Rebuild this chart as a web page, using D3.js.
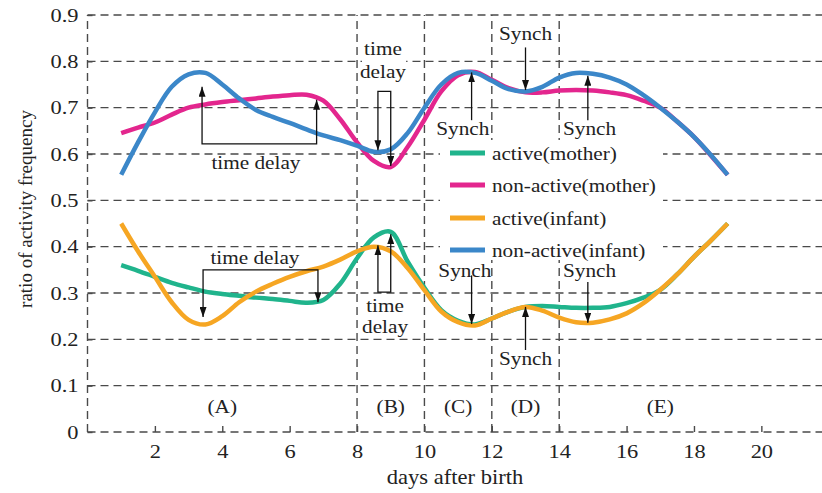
<!DOCTYPE html>
<html><head><meta charset="utf-8">
<script src="https://cdn.jsdelivr.net/npm/d3@7"></script>
<style>html,body{margin:0;padding:0;background:#fff;} svg{display:block;}</style>
</head><body><svg id="chart" width="822" height="493"></svg>
<script>
// ---------------- DATA ----------------
const days = [1,1.5,2,2.5,3,3.5,4,4.5,5,5.5,6,6.5,7,7.5,8,8.5,9,9.5,10,10.5,11,11.5,12,12.5,13,13.5,14,14.5,15,15.5,16,16.5,17,17.5,18,18.5,19];
const activeMother    = [0.36,0.348,0.335,0.322,0.312,0.303,0.298,0.294,0.29,0.287,0.283,0.279,0.285,0.32,0.375,0.42,0.432,0.368,0.311,0.263,0.24,0.232,0.245,0.26,0.27,0.272,0.27,0.268,0.268,0.27,0.278,0.29,0.307,0.34,0.378,0.413,0.45];
const nonActiveMother = [0.645,0.657,0.668,0.685,0.70,0.707,0.712,0.716,0.72,0.724,0.727,0.728,0.715,0.675,0.625,0.585,0.572,0.615,0.674,0.735,0.77,0.777,0.76,0.742,0.733,0.733,0.737,0.738,0.737,0.733,0.727,0.715,0.70,0.67,0.637,0.597,0.555];
const activeInfant    = [0.45,0.39,0.335,0.28,0.242,0.232,0.25,0.28,0.303,0.32,0.335,0.347,0.357,0.372,0.39,0.40,0.39,0.354,0.306,0.26,0.237,0.23,0.245,0.26,0.27,0.262,0.247,0.237,0.236,0.243,0.256,0.278,0.307,0.34,0.378,0.413,0.45];
const nonActiveInfant = [0.555,0.625,0.69,0.745,0.772,0.775,0.75,0.72,0.695,0.68,0.667,0.653,0.64,0.63,0.618,0.605,0.61,0.645,0.70,0.75,0.775,0.775,0.758,0.74,0.735,0.745,0.765,0.775,0.773,0.765,0.75,0.727,0.70,0.67,0.637,0.598,0.555];
const seriesNames  = ["active(mother)","non-active(mother)","active(infant)","non-active(infant)"];
const seriesColors = ["#20b48c","#e3268e","#f6a623","#3b87c9"];
const xTicks = [2,4,6,8,10,12,14,16,18,20];
const yTicks = [0,0.1,0.2,0.3,0.4,0.5,0.6,0.7,0.8,0.9];
const phaseBounds = [8,10,12,14];
const phaseLabels = ["(A)","(B)","(C)","(D)","(E)"];
const phaseLabelX = [4,9,11,13,17];
const phaseLabelY = 0.041;

// annotations (data units)
const bracketNotes = [
  [[3.4,0.745],[3.4,0.622],[6.8,0.622],[6.8,0.717]],
  [[8.62,0.608],[8.62,0.735],[9.0,0.735],[9.0,0.574]],
  [[3.43,0.248],[3.43,0.35],[6.84,0.35],[6.84,0.28]],
  [[8.62,0.403],[8.62,0.302],[9.0,0.302],[9.0,0.427]]
];
const arrowNotes = [
  [[11.4,0.673],[11.4,0.776]],
  [[13.0,0.83],[13.0,0.738]],
  [[14.85,0.673],[14.85,0.769]],
  [[11.4,0.338],[11.4,0.233]],
  [[13.0,0.177],[13.0,0.27]],
  [[14.85,0.324],[14.85,0.236]]
];
const textNotes = [
  {t:"time delay", x:5.0, y:0.568},
  {t:"time", x:8.77, y:0.814, bg:"B"},
  {t:"delay", x:8.77, y:0.764, bg:"B"},
  {t:"Synch", x:11.14, y:0.64},
  {t:"Synch", x:13.0, y:0.845},
  {t:"Synch", x:14.9, y:0.64},
  {t:"time delay", x:4.97, y:0.362},
  {t:"time", x:8.83, y:0.259},
  {t:"delay", x:8.83, y:0.214},
  {t:"Synch", x:11.2, y:0.335},
  {t:"Synch", x:13.0, y:0.145},
  {t:"Synch", x:14.9, y:0.335}
];

// ---------------- CHART ----------------
const W = 822, H = 493;
const FONT = "'Liberation Serif','Times New Roman',serif";
const SX = 1.18;
const GRID = "#4a4a4a";
const svg = d3.select("#chart").style("font-family", FONT);
const x = d3.scaleLinear().domain([0, 21.8]).range([87.5, 822]);
const y = d3.scaleLinear().domain([0, 0.9]).range([432, 15]);

svg.append("rect").attr("width", W).attr("height", H).attr("fill", "#fff");

const defs = svg.append("defs");
defs.append("marker").attr("id","arr").attr("viewBox","0 0 10 7")
  .attr("refX",10).attr("refY",3.5).attr("markerWidth",10).attr("markerHeight",7)
  .attr("markerUnits","userSpaceOnUse").attr("orient","auto-start-reverse")
  .append("path").attr("d","M0,0 L10,3.5 L0,7 Z").attr("fill","#111");

// grid
const grid = svg.append("g").attr("stroke", GRID).attr("stroke-width", 1.4).attr("stroke-dasharray", "8,5").attr("fill","none");
yTicks.forEach(v => grid.append("line").attr("x1", x(0)).attr("x2", W).attr("y1", y(v)).attr("y2", y(v)));
[0].concat(phaseBounds).forEach(v => grid.append("line").attr("x1", x(v)).attr("x2", x(v)).attr("y1", y(0)).attr("y2", y(0.9)));

// axes
const xAxis = svg.append("g").attr("transform", `translate(0,${y(0)})`)
  .call(d3.axisBottom(x).tickValues(xTicks).tickSize(-6).tickPadding(12.5).tickFormat(d3.format("d")));
const yAxis = svg.append("g").attr("transform", `translate(${x(0)},0)`)
  .call(d3.axisLeft(y).tickValues(yTicks).tickSize(-5).tickPadding(9 / SX).tickFormat(d => d === 0 ? "0" : d3.format(".1f")(d)));
[xAxis, yAxis].forEach(g => {
  g.select(".domain").remove();
  g.selectAll(".tick line").attr("stroke", GRID).attr("stroke-width", 1.4);
  g.selectAll(".tick text").attr("font-family", FONT).attr("font-size", 19).attr("fill", "#222")
    .attr("transform", `scale(${SX},1)`);
});

function label(parent, s, px, py, size, anchor) {
  return parent.append("text").attr("transform", `translate(${px},${py}) scale(${SX},1)`)
    .attr("text-anchor", anchor || "middle").attr("font-size", size).attr("fill", "#222").text(s);
}

// axis titles
svg.append("text").attr("transform", `translate(25,209) rotate(-90)`).attr("text-anchor","middle")
  .attr("dy","0.35em").attr("font-size", 19).attr("fill","#222").text("ratio of activity frequency");
svg.append("text").attr("transform", `translate(455,484) scale(1.13,1)`).attr("text-anchor","middle")
  .attr("font-size", 20).attr("fill","#222").text("days after birth");

// legend
const leg = svg.append("g");
leg.append("rect").attr("x", 440).attr("y", 140).attr("width", 223).attr("height", 120).attr("fill", "#fff");
const rowY = [153, 185, 218, 250];
seriesNames.forEach((n, i) => {
  leg.append("line").attr("x1", 450).attr("x2", 485).attr("y1", rowY[i]).attr("y2", rowY[i])
    .attr("stroke", seriesColors[i]).attr("stroke-width", 5);
  label(leg, n, 492, rowY[i] + 6.5, 18, "start");
});

// phase labels
phaseLabels.forEach((p, i) => label(svg, p, x(phaseLabelX[i]), y(phaseLabelY), 18));

// curves
const allSeries = [activeMother, nonActiveMother, activeInfant, nonActiveInfant];
const line = d3.line().x(d => x(d[0])).y(d => y(d[1])).curve(d3.curveCatmullRom.alpha(0.5));
allSeries.forEach((vals, i) => {
  svg.append("path").datum(days.map((d, j) => [d, vals[j]])).attr("d", line)
    .attr("fill", "none").attr("stroke", seriesColors[i]).attr("stroke-width", 4.5)
    .attr("stroke-linejoin","round").attr("stroke-linecap","butt");
});

// annotations
const ann = svg.append("g");
const bgB = ann.append("g");
const bgRect = bgB.append("rect").attr("fill", "#fff");
const plain = d3.line().x(d => x(d[0])).y(d => y(d[1]));
bracketNotes.forEach(pts => ann.append("path").attr("d", plain(pts)).attr("fill","none")
  .attr("stroke","#111").attr("stroke-width",1.3).attr("marker-start","url(#arr)").attr("marker-end","url(#arr)"));
arrowNotes.forEach(pts => ann.append("path").attr("d", plain(pts)).attr("fill","none")
  .attr("stroke","#111").attr("stroke-width",1.3).attr("marker-end","url(#arr)"));
textNotes.forEach(n => label(n.bg ? bgB : ann, n.t, x(n.x), y(n.y), 18));
const bb = bgB.node().getBBox();
bgRect.attr("x", bb.x + 2).attr("y", bb.y).attr("width", bb.width - 2).attr("height", bb.height);
</script></body></html>
